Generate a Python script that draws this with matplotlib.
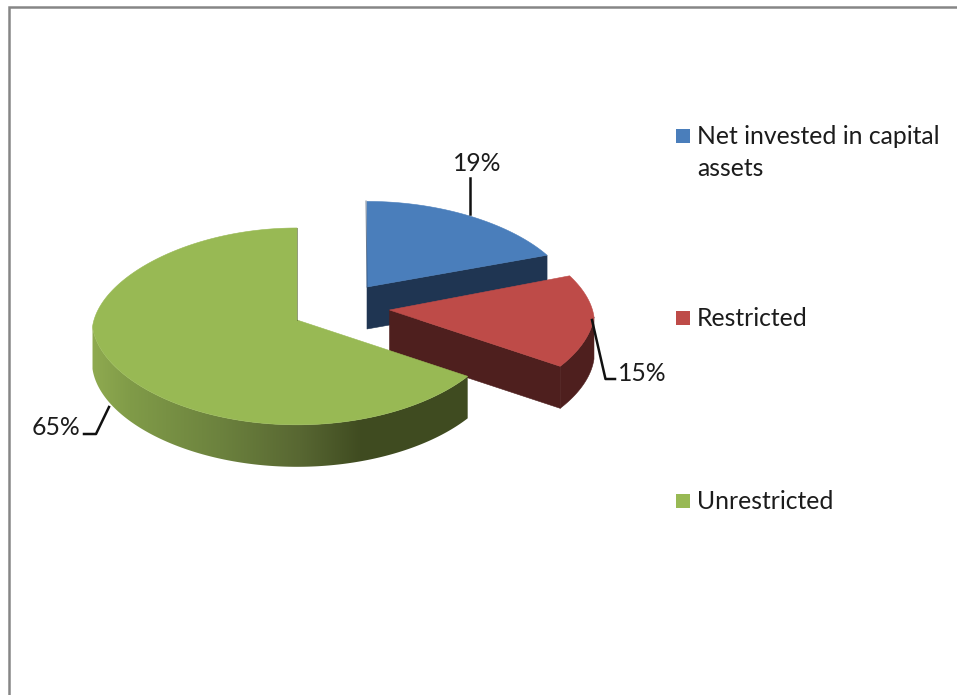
import numpy as np
import matplotlib
matplotlib.use("Agg")
import matplotlib.pyplot as plt
from matplotlib.patches import Polygon, Rectangle

categories = ["Net invested in capital\nassets", "Restricted", "Unrestricted"]
values = [19, 15, 65]
top_colors = ["#4A7EBB", "#BE4B48", "#98B954"]
dark_colors = ["#1F3552", "#4E1F1E", "#404B20"]

# pie geometry, in figure pixels
RADIUS_X = 205
RADIUS_Y = 98
PERSPECTIVE = 0.065
BACK_SQUEEZE = 0.14
DEPTH = 42
apex = [(367, 287), (389.5, 310), (297, 320)]
# slices further back look a little flatter
flatten = [0.93, 1.0, 1.0]

plt.rcParams['font.family'] = ['Lato', 'DejaVu Sans']
TEXT_SIZE = 17.8
TEXT_COLOR = "#1c1c1c"
LINE_COLOR = "#111111"

# shade of the lit rim on the big slice, left to right
RIM_X = [92, 130, 220, 300, 360, 470]
RIM_RGB = [[143, 170, 80], [128, 155, 72], [108, 130, 62], [88, 103, 50], [64, 76, 33], [63, 75, 32]]


def project(angle, center, squash):
    # angle runs clockwise from 12 o'clock, the disc is tilted towards the viewer
    u = np.sin(angle)
    v = np.cos(angle)
    sx = RADIUS_X * u * (1 - BACK_SQUEEZE * np.maximum(v + 0.07, 0))
    sy = RADIUS_Y * squash * v / (1 + PERSPECTIVE * v)
    return center[0] + sx, center[1] - sy


fig = plt.figure(figsize=(9.57, 6.95), dpi=100)
ax = fig.add_axes([0, 0, 1, 1])
ax.axis('off')

# frame, only the top and left edges fall inside the canvas
ax.plot([9, 9, 957], [695, 7, 7], color="#868686", lw=1.8, solid_joinstyle='miter')

edges = np.cumsum([0] + values) / sum(values) * 2 * np.pi

for i in range(len(values)):
    start, end = edges[i], edges[i + 1]
    angles = np.linspace(start, end, 300)
    px, py = project(angles, apex[i], flatten[i])
    cx, cy = apex[i]
    z = 2 + i * 2

    # the rim shows only between the right and left extremes of the arc
    lo = np.argmax(px)
    hi = np.argmin(px) + 1
    if hi - lo >= 2:
        rx = px[lo:hi]
        ry = py[lo:hi]
        rim = list(zip(rx, ry)) + list(zip(rx[::-1], ry[::-1] + DEPTH))
        if i == 2:
            # gradient rim, clipped to the outline of the slice side
            xs = np.linspace(RIM_X[0], RIM_X[-1], 400)
            shade = np.array([np.interp(xs, RIM_X, [c[k] for c in RIM_RGB]) for k in range(3)]).T / 255
            img = ax.imshow(shade[np.newaxis, :, :], extent=(RIM_X[0], RIM_X[-1], 500, 300),
                            aspect='auto', interpolation='bilinear', zorder=z)
            clip = Polygon(rim, closed=True, transform=ax.transData, fc='none', ec='none')
            ax.add_patch(clip)
            img.set_clip_path(clip)
        else:
            ax.add_patch(Polygon(rim, closed=True, fc=dark_colors[i], ec=dark_colors[i], lw=0.4, zorder=z))

    # cut faces that turn towards the viewer
    if np.sin(end) > 1e-6:
        ax.add_patch(Polygon([(cx, cy), (px[-1], py[-1]), (px[-1], py[-1] + DEPTH), (cx, cy + DEPTH)],
                             closed=True, fc=dark_colors[i], ec=dark_colors[i], lw=0.4, zorder=z))
    if np.sin(start) < -1e-6:
        ax.add_patch(Polygon([(cx, cy), (px[0], py[0]), (px[0], py[0] + DEPTH), (cx, cy + DEPTH)],
                             closed=True, fc=dark_colors[i], ec=dark_colors[i], lw=0.4, zorder=z))

    top = [(cx, cy)] + list(zip(px, py))
    ax.add_patch(Polygon(top, closed=True, fc=top_colors[i], ec=top_colors[i], lw=0.4, zorder=z + 1))

# thin shaded edge on the cuts that face 12 o'clock
ax.plot([367, 366], [287, 201], color=dark_colors[0], lw=0.7, alpha=0.6, zorder=3)
ax.plot([297, 297], [320, 228], color=dark_colors[2], lw=0.7, alpha=0.5, zorder=7)

# leader lines
ax.plot([470, 470], [178, 214], color=LINE_COLOR, lw=1.8, zorder=10)
ax.plot([592, 605.5, 615], [320, 379, 379], color=LINE_COLOR, lw=1.8, zorder=10)
ax.plot([109, 96, 84], [407, 434, 434], color=LINE_COLOR, lw=1.8, zorder=10)

# data labels
ax.text(477, 171, f"{values[0]}%", ha='center', va='baseline', fontsize=TEXT_SIZE, color=TEXT_COLOR)
ax.text(642, 381, f"{values[1]}%", ha='center', va='baseline', fontsize=TEXT_SIZE, color=TEXT_COLOR)
ax.text(56, 435, f"{values[2]}%", ha='center', va='baseline', fontsize=TEXT_SIZE, color=TEXT_COLOR)

# legend, baseline of the last line of each entry
legend_y = [129, 311, 494]
text_y = [176, 326, 509]
for i, name in enumerate(categories):
    ax.add_patch(Rectangle((676, legend_y[i]), 14, 14, fc=top_colors[i], ec='none'))
    ax.text(697, text_y[i], name, ha='left', va='baseline', fontsize=TEXT_SIZE,
            color=TEXT_COLOR, linespacing=1.49)

ax.set_xlim(0, 957)
ax.set_ylim(695, 0)
fig.savefig("out.png", dpi=100)
